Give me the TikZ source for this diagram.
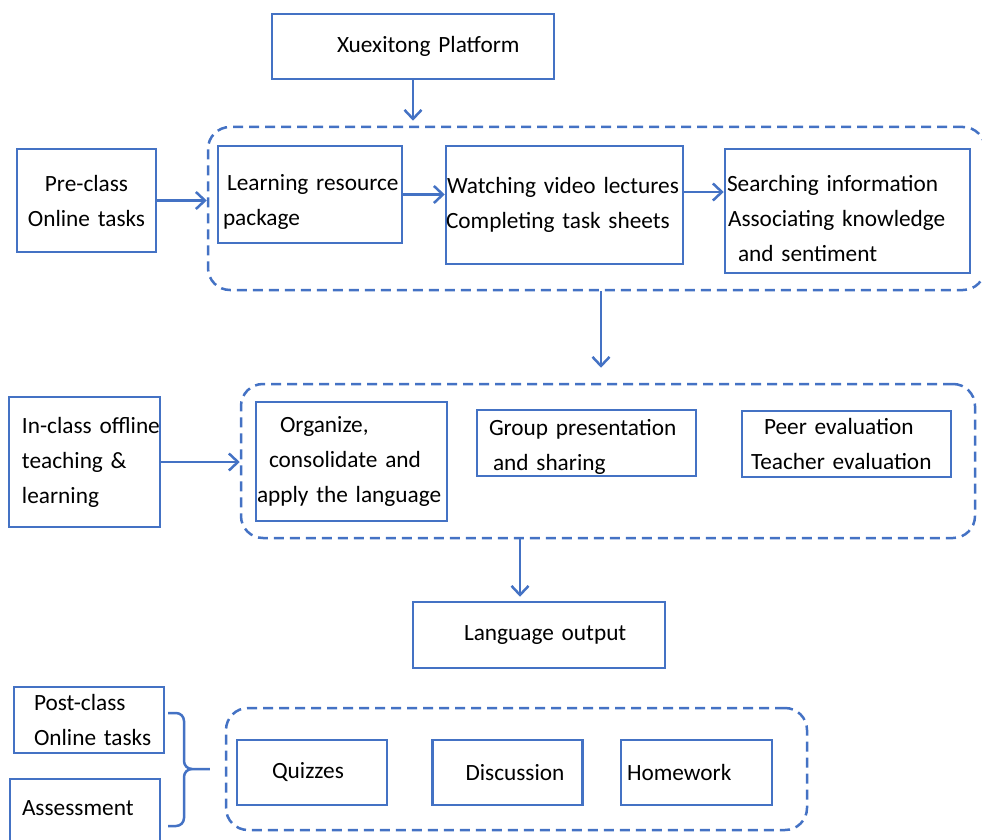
\documentclass[tikz,border=0pt]{standalone}
\usepackage{fontspec}
\setmainfont{Carlito}
\usetikzlibrary{arrows.meta}
\usetikzlibrary{positioning}
\definecolor{flowblue}{HTML}{4472C4}

\begin{document}
\begin{tikzpicture}[x=1pt,y=-1pt,line width=2.5pt]
\clip (0,0) rectangle (982,840);

\begin{scope}[every node/.style={draw=flowblue,rectangle,rounded corners=22pt,dash pattern=on 10pt off 6pt,inner sep=0pt}]
    \node[minimum width=777pt,minimum height=163pt] (online_grp)  at (596.5,208.5) {};
    \node[minimum width=734pt,minimum height=154pt] (inclass_grp) at (608,461)     {};
    \node[minimum width=581pt,minimum height=122pt] (wrapup_grp)  at (516.5,769)   {};
\end{scope}

\begin{scope}[every node/.style={draw=flowblue,rectangle,inner sep=0pt,align=left,font=\fontsize{23.3}{35}\selectfont}]
    \node[text width=282pt,minimum height=65pt]  (platform)   at (413,46.5)    {\hspace*{65pt}Xuexitong Platform};
    \node[text width=139pt,minimum height=103pt,align=center] (pre_class) at (86.5,200.5) {Pre-class\\Online tasks};
    \node[text width=184pt,minimum height=97pt,text height=31pt]  (resource) at (310,194.5) {\hspace*{9pt}Learning resource\\\hspace*{5pt}package};
    \node[text width=237pt,minimum height=118pt] (watching)   at (564.5,205)   {\hspace*{1pt}Watching video lectures\\Completing task sheets};
    \node[text width=245pt,minimum height=124pt,text height=31pt] (search)   at (847.5,211) {\hspace*{2pt}Searching information\\\hspace*{3pt}Associating knowledge\\\hspace*{13pt}and sentiment};
    \node[text width=151pt,minimum height=130pt] (in_class)   at (84.5,462)    {\hspace*{13pt}In-class offline\\\hspace*{13pt}teaching \&\\\hspace*{13pt}learning};
    \node[text width=191pt,minimum height=119pt] (organize)   at (351.5,461.5) {\hspace*{24pt}Organize,\\\hspace*{13pt}consolidate and\\\hspace*{1pt}apply the language};
    \node[text width=219pt,minimum height=66pt,text height=23pt]  (presenting) at (586.5,443) {\hspace*{12pt}Group presentation\\\hspace*{16pt}and sharing};
    \node[text width=209pt,minimum height=66pt]  (evaluation) at (846.5,444)   {\hspace*{22pt}Peer evaluation\\\hspace*{9pt}Teacher evaluation};
    \node[text width=252pt,minimum height=66pt]  (output)     at (539,635)     {\hspace*{51pt}Language output};
    \node[text width=150pt,minimum height=66pt]  (post_class) at (89,720)      {\hspace*{20pt}Post-class\\\hspace*{20pt}Online tasks};
    \node[text width=150pt,minimum height=71pt,text height=14pt,text depth=12pt] (assessment) at (85,814.5) {\hspace*{12pt}Assessment};
    \node[text width=150pt,minimum height=65pt]  (quizzes)    at (312,772.5)   {\hspace*{35pt}Quizzes};
    \node[text width=150pt,minimum height=65pt,right=43pt of quizzes]    (discussion) {\hspace*{33pt}Discussion};
    \node[text width=151pt,minimum height=65pt,right=36pt of discussion] (homework)   {\hspace*{6pt}Homework};
\end{scope}

\coordinate (w_out)     at ([yshift=13pt]watching.east);
\coordinate (o_out)     at ([xshift=4.5pt]online_grp.south);
\coordinate (o_tip)     at (o_out |- inclass_grp.north);
\coordinate (out_top)   at ([xshift=-19pt]output.north);
\coordinate (p_tip)     at (platform.south |- online_grp.north);
\coordinate (brace_tip) at ([xshift=-15pt]wrapup_grp.west);

\begin{scope}[>={Straight Barb[length=9pt,width=17pt]},
              every edge/.style={draw=flowblue,line width=2.5pt}]
    \path [->] (platform.south)              edge ([yshift=5pt]p_tip);
    \path [->] (pre_class)                   edge (pre_class -| online_grp.west);
    \path [->] (resource)                    edge (resource -| watching.west);
    \path [->] (w_out)                       edge (w_out -| search.west);
    \path [->] (o_out)                       edge ([yshift=15pt]o_tip);
    \path [->] (in_class)                    edge (in_class -| inclass_grp.west);
    \path [->] (out_top |- inclass_grp.south) edge ([yshift=4pt]out_top);
\end{scope}

\draw[flowblue] (168,713) -- (176,713) to[out=0,in=90] (184,721) -- (184,761)
    to[out=-90,in=180] (192,769) -- (brace_tip);
\draw[flowblue] (192,769) to[out=180,in=90] (184,777) -- (184,818)
    to[out=-90,in=0] (176,826) -- (168,826);
\end{tikzpicture}
\end{document}
